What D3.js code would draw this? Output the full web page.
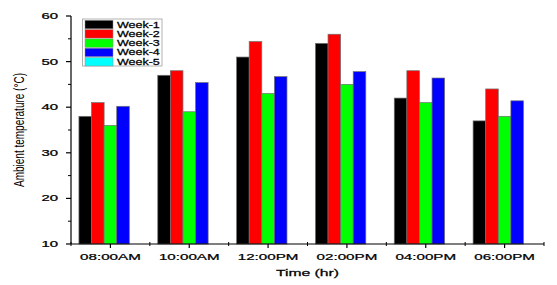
<!DOCTYPE html>
<html>
<head>
<meta charset="utf-8">
<script src="https://cdn.jsdelivr.net/npm/d3@7"></script>
<style>
  html, body { margin: 0; padding: 0; background: #fff; }
  svg { display: block; }
  text { font-family: "Liberation Sans", Arial, sans-serif; fill: #000; }
  text.heavy { stroke: #000; stroke-width: 0.25; }
</style>
</head>
<body>
<svg id="chart" width="557" height="285"></svg>
<script>
const categories = ["08:00AM", "10:00AM", "12:00PM", "02:00PM", "04:00PM", "06:00PM"];
const seriesNames = ["Week-1", "Week-2", "Week-3", "Week-4", "Week-5"];
const week1 = [38, 47, 51, 54, 42, 37];
const week2 = [41, 48, 54.4, 56, 48, 44];
const week3 = [36, 39, 43, 45, 41, 38];
const week4 = [40.2, 45.4, 46.7, 47.8, 46.4, 41.4];
const week5 = [null, null, null, null, null, null];
const seriesColors = ["#000000", "#ff0000", "#00ff00", "#0000ff", "#00ffff"];
const yTicks = [10, 20, 30, 40, 50, 60];
const yMinorTicks = [15, 25, 35, 45, 55];
const xTitle = "Time (hr)";
const yTitle = "Ambient temperature (°C)";

const series = [week1, week2, week3, week4, week5];

const svg = d3.select("#chart");
const pLeft = 71, pRight = 544, pTop = 16, pBottom = 244;

const x = d3.scaleBand().domain(categories).range([pLeft, pRight]).paddingInner(0).paddingOuter(0);
const xi = d3.scaleBand().domain(seriesNames).range([0, x.bandwidth()]).paddingInner(0).paddingOuter(0.63);
const y = d3.scaleLinear().domain([10, 60]).range([pBottom, pTop]);

// bars
const groups = svg.append("g").selectAll("g").data(categories).join("g")
  .attr("transform", c => `translate(${x(c)},0)`);
groups.selectAll("rect")
  .data((c, i) => seriesNames.map((s, k) => ({ s, k, v: series[k][i] })).filter(d => d.v != null))
  .join("rect")
  .attr("x", d => xi(d.s))
  .attr("width", xi.bandwidth())
  .attr("y", d => y(d.v))
  .attr("height", d => y(10) - y(d.v))
  .attr("fill", d => seriesColors[d.k])
  .attr("stroke", "#707070")
  .attr("stroke-width", 0.7);

// y axis
const yAxis = svg.append("g").attr("transform", `translate(${pLeft},0)`);
yAxis.append("line").attr("x1", 0).attr("x2", 0).attr("y1", y(60)).attr("y2", y(10))
  .attr("stroke", "#000").attr("stroke-width", 1.2);
yAxis.selectAll(".maj").data(yTicks).join("line")
  .attr("x1", -5).attr("x2", 0).attr("y1", d => y(d)).attr("y2", d => y(d))
  .attr("stroke", "#000").attr("stroke-width", 1.2);
yAxis.selectAll(".min").data(yMinorTicks).join("line")
  .attr("x1", -3).attr("x2", 0).attr("y1", d => y(d)).attr("y2", d => y(d))
  .attr("stroke", "#000").attr("stroke-width", 1);
svg.append("g").selectAll("text").data(yTicks).join("text")
  .attr("class", "heavy")
  .attr("transform", d => `translate(58,${y(d)}) scale(1.75,1)`)
  .attr("text-anchor", "end")
  .attr("dy", "0.35em")
  .attr("font-size", 8.5)
  .text(d => d);

// x axis
const xAxis = svg.append("g").attr("transform", `translate(0,${pBottom})`);
xAxis.append("line").attr("x1", pLeft).attr("x2", pRight).attr("y1", 0).attr("y2", 0)
  .attr("stroke", "#000").attr("stroke-width", 1.2);
xAxis.selectAll(".maj").data(categories).join("line")
  .attr("x1", d => x(d) + x.bandwidth() / 2).attr("x2", d => x(d) + x.bandwidth() / 2)
  .attr("y1", 0).attr("y2", 4)
  .attr("stroke", "#000").attr("stroke-width", 1.2);
xAxis.selectAll(".min").data(categories.concat(["end"])).join("line")
  .attr("x1", (d, i) => pLeft + i * x.step()).attr("x2", (d, i) => pLeft + i * x.step())
  .attr("y1", -2).attr("y2", 2)
  .attr("stroke", "#000").attr("stroke-width", 1);
svg.append("g").selectAll("text").data(categories).join("text")
  .attr("class", "heavy")
  .attr("transform", d => `translate(${x(d) + x.bandwidth() / 2},259.5) scale(1.58,1)`)
  .attr("text-anchor", "middle")
  .attr("font-size", 9.6)
  .text(d => d);

// axis titles
svg.append("text")
  .attr("class", "heavy")
  .attr("transform", `translate(${(pLeft + pRight) / 2},276) scale(1.6,1)`)
  .attr("text-anchor", "middle")
  .attr("font-size", 9.8)
  .text(xTitle);
svg.append("text")
  .attr("transform", `translate(23.5,${(pTop + pBottom) / 2}) scale(1.4,1) rotate(-90)`)
  .attr("text-anchor", "middle")
  .attr("font-size", 10)
  .text(yTitle);

// legend
const lg = svg.append("g").attr("transform", "translate(82.5,19)");
lg.append("rect").attr("x", 0).attr("y", 0).attr("width", 79.5).attr("height", 47)
  .attr("fill", "#fff").attr("stroke", "#a0a0a0").attr("stroke-width", 0.8);
const rowH = 9.3;
const items = lg.selectAll("g").data(seriesNames).join("g")
  .attr("transform", (d, i) => `translate(0,${1 + i * rowH})`);
items.append("rect").attr("x", 2.5).attr("y", 0.3).attr("width", 28).attr("height", rowH - 0.8)
  .attr("fill", (d, i) => seriesColors[i]).attr("stroke", "#909090").attr("stroke-width", 0.5);
items.append("text")
  .attr("class", "heavy")
  .attr("transform", `translate(34.5,${rowH - 1.8}) scale(1.47,1)`)
  .attr("font-size", 8.5)
  .text(d => d);
</script>
</body>
</html>
